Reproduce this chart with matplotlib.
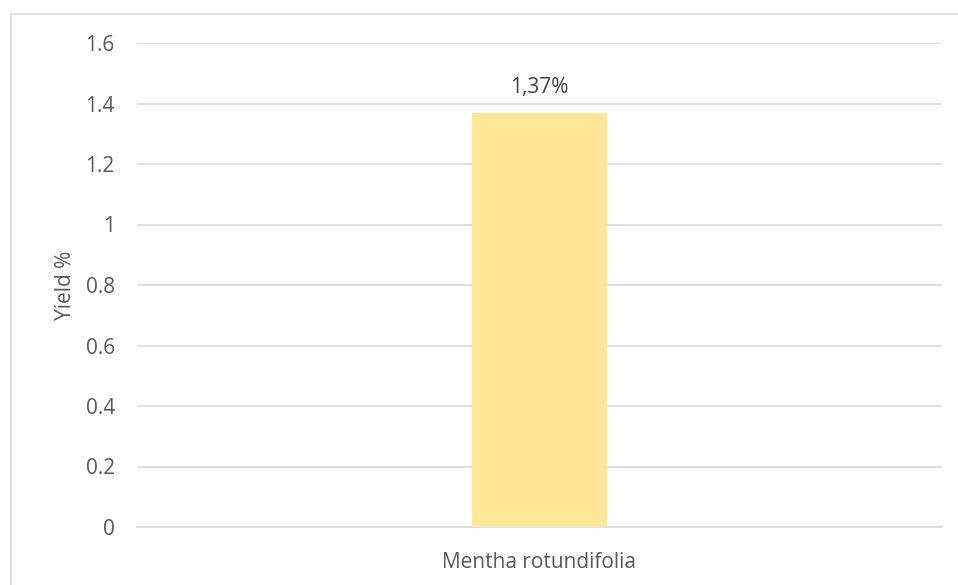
import matplotlib as mpl
mpl.use('Agg')
import matplotlib.pyplot as plt
from matplotlib.lines import Line2D

categories = ["Mentha rotundifolia"]
yields = [1.37]
labels = ["1,37%"]
yticks = [0, 0.2, 0.4, 0.6, 0.8, 1.0, 1.2, 1.4, 1.6]
ytick_labels = ["0", "0.2", "0.4", "0.6", "0.8", "1", "1.2", "1.4", "1.6"]

mpl.rcParams['font.family'] = ['Open Sans', 'DejaVu Sans']
txt = '#595959'
fs = 15

W, H = 958, 585
fig = plt.figure(figsize=(W/100, H/100), dpi=100)
ax = fig.add_axes([137/W, 1-527/H, (942-137)/W, (527-43)/H])

x = range(len(categories))
ax.bar(x, yields, width=0.168, color='#FFE699', zorder=3)
for xi, v, lab in zip(x, yields, labels):
    ax.annotate(lab, (xi, v), xytext=(0, 18), textcoords='offset points',
                ha='center', va='center', fontsize=fs, color='#404040')

ax.set_xlim(-0.5, len(categories)-0.5)
ax.set_ylim(0, 1.6)
ax.set_yticks(yticks)
ax.set_yticklabels(ytick_labels)
ax.set_xticks(list(x))
ax.set_xticklabels(categories)
ax.grid(axis='y', color='#D9D9D9', linewidth=1.2, zorder=0)
for s in ['top', 'right', 'left']:
    ax.spines[s].set_visible(False)
ax.spines['bottom'].set_color('#D9D9D9')
ax.spines['bottom'].set_linewidth(1.2)
ax.tick_params(axis='both', length=0, labelsize=fs, colors=txt)
ax.tick_params(axis='y', pad=16)
ax.tick_params(axis='x', pad=18)
ax.set_ylabel("Yield %", fontsize=fs, color=txt, labelpad=7)

# chart frame (only left and top edges fall inside the image)
fig.add_artist(Line2D([10.5/W, 10.5/W], [0, 1-13.5/H], transform=fig.transFigure, color='#D9D9D9', lw=1.2))
fig.add_artist(Line2D([10.5/W, 1], [1-13.5/H, 1-13.5/H], transform=fig.transFigure, color='#D9D9D9', lw=1.2))

fig.savefig("out.png", dpi=100)
